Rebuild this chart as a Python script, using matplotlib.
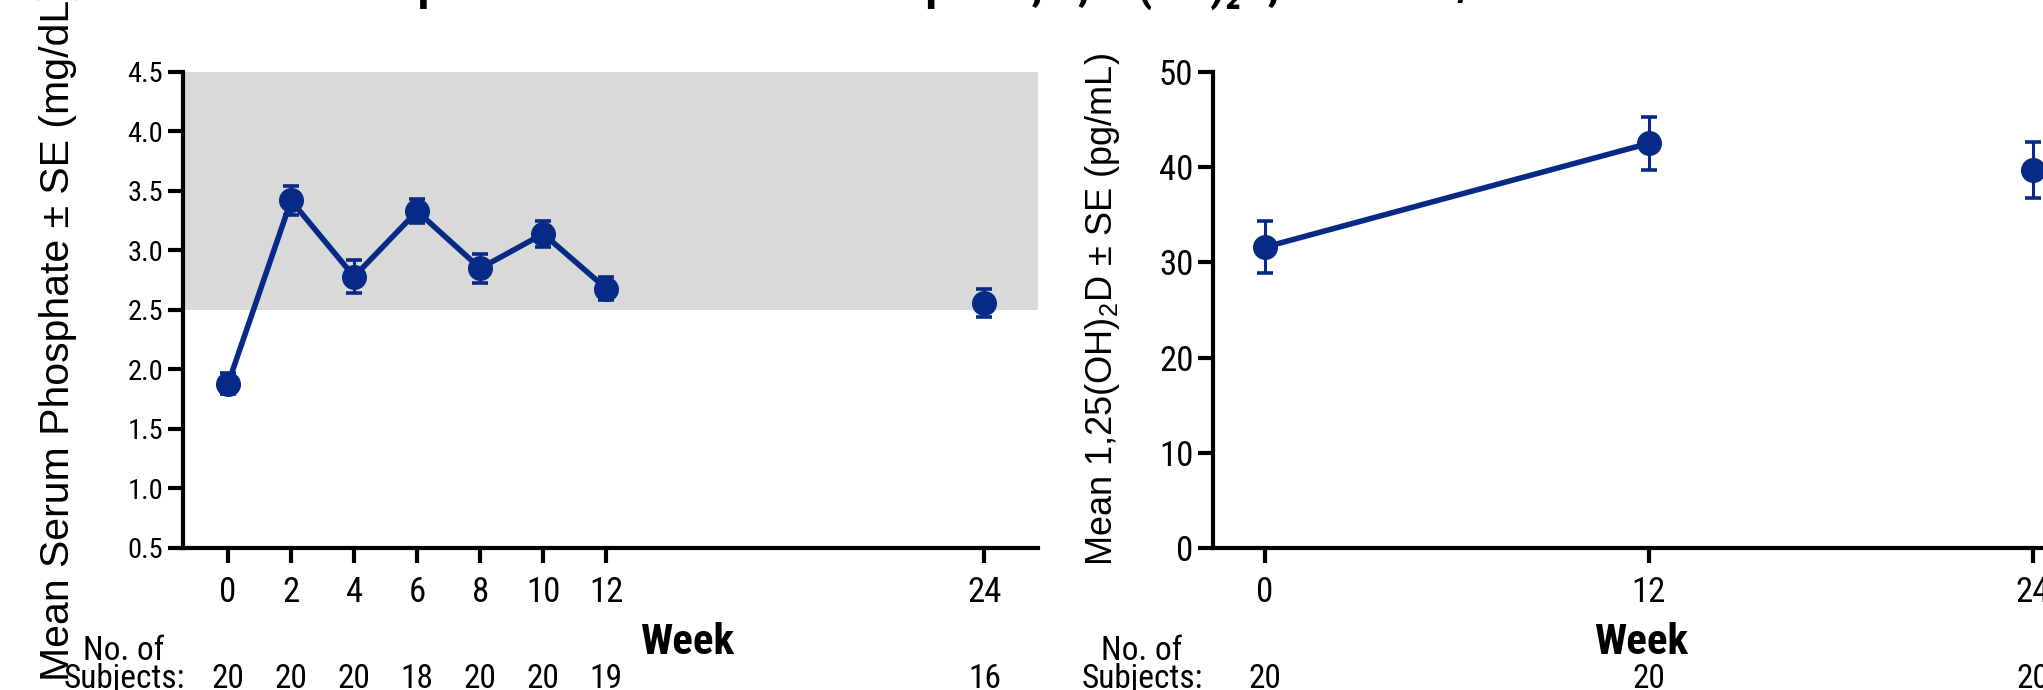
import matplotlib
matplotlib.use("Agg")
import matplotlib.pyplot as plt
import matplotlib.transforms as mtransforms

# condensed face for ticks, counts and axis titles
plt.rcParams['font.family'] = ['Roboto Condensed', 'Liberation Sans Narrow', 'DejaVu Sans']

# Serum phosphate (mg/dL)
phos_weeks = [0, 2, 4, 6, 8, 10, 12, 24]
phos_mean = [1.88, 3.42, 2.78, 3.33, 2.85, 3.14, 2.68, 2.56]
phos_se = [0.09, 0.12, 0.14, 0.10, 0.12, 0.11, 0.10, 0.12]
phos_n = [20, 20, 20, 18, 20, 20, 19, 16]

# 1,25(OH)2D (pg/mL)
vitd_weeks = [0, 12, 24]
vitd_mean = [31.6, 42.5, 39.7]
vitd_se = [2.75, 2.75, 2.9]
vitd_n = [20, 20, 20]

navy = '#062a85'
shade = '#d9d9d9'
label_font = ['Liberation Sans', 'DejaVu Sans']

fig = plt.figure(figsize=(20.43, 6.9), dpi=100)
ax1 = fig.add_axes([0.0894, 0.2058, 0.4187, 0.6899])
ax2 = fig.add_axes([0.5937, 0.2058, 0.4278, 0.6899])

# title, mostly cropped away at the top of the image
fig.text(0.47, 1.0, 'Improvements in Serum Phosphate, 1,25(OH)₂D, and TmP/GFR',
         ha='center', va='baseline', fontsize=34, fontweight='bold')


def style(ax, ytick_size):
    for s in ['top', 'right']:
        ax.spines[s].set_visible(False)
    for s in ['left', 'bottom']:
        ax.spines[s].set_linewidth(3)
    ax.tick_params(axis='both', direction='out', length=11, width=3, color='black')
    ax.tick_params(axis='y', labelsize=ytick_size, pad=3)
    ax.tick_params(axis='x', labelsize=25, pad=9)


# ---- left panel: phosphate ----
ax1.axhspan(2.5, 4.5, color=shade, zorder=0, lw=0)
ax1.plot(phos_weeks[:7], phos_mean[:7], color=navy, lw=4, zorder=2)
ax1.errorbar(phos_weeks, phos_mean, yerr=phos_se, fmt='o', color=navy, ms=17,
             elinewidth=2.2, capsize=6, capthick=2.6, zorder=3)
ax1.set_xlim(-1.44, 25.7)
ax1.set_ylim(0.5, 4.5)
ax1.set_yticks([0.5, 1.0, 1.5, 2.0, 2.5, 3.0, 3.5, 4.0, 4.5])
ax1.set_yticklabels(['0.5', '1.0', '1.5', '2.0', '2.5', '3.0', '3.5', '4.0', '4.5'])
ax1.set_xticks(phos_weeks)
style(ax1, 20.5)
ax1.set_ylabel('Mean Serum Phosphate ± SE (mg/dL)', fontsize=29.5, family=label_font)
ax1.yaxis.set_label_coords(-0.124, 0.45)
ax1.set_xlabel('Week', fontsize=31, fontweight='bold')
ax1.xaxis.set_label_coords(0.59, -0.155)

# ---- right panel: 1,25(OH)2D ----
ax2.plot(vitd_weeks[:2], vitd_mean[:2], color=navy, lw=4, zorder=2)
ax2.errorbar(vitd_weeks, vitd_mean, yerr=vitd_se, fmt='o', color=navy, ms=17,
             elinewidth=2.2, capsize=6, capthick=2.6, zorder=3)
ax2.set_xlim(-1.625, 25.7)
ax2.set_ylim(0, 50)
ax2.set_yticks([0, 10, 20, 30, 40, 50])
ax2.set_xticks(vitd_weeks)
style(ax2, 25)
ax2.set_ylabel('Mean 1,25(OH)$\\mathregular{_2}$D ± SE (pg/mL)', fontsize=26, family=label_font)
ax2.yaxis.set_label_coords(-0.104, 0.5)
ax2.set_xlabel('Week', fontsize=31, fontweight='bold')
ax2.xaxis.set_label_coords(0.49, -0.155)

# ---- number of subjects rows ----
for ax, weeks, ns, xlab in [(ax1, phos_weeks, phos_n, 124 / 2043),
                            (ax2, vitd_weeks, vitd_n, 1142 / 2043)]:
    fig.text(xlab, 1 - 660 / 690, 'No. of', ha='center', va='baseline', fontsize=24)
    fig.text(xlab, 1 - 688 / 690, 'Subjects:', ha='center', va='baseline', fontsize=24)
    trans = mtransforms.blended_transform_factory(ax.transData, fig.transFigure)
    for w, n in zip(weeks, ns):
        ax.text(w, 1 - 688 / 690, str(n), transform=trans, ha='center', va='baseline',
                fontsize=24, clip_on=False)

fig.savefig('out.png', dpi=100)
